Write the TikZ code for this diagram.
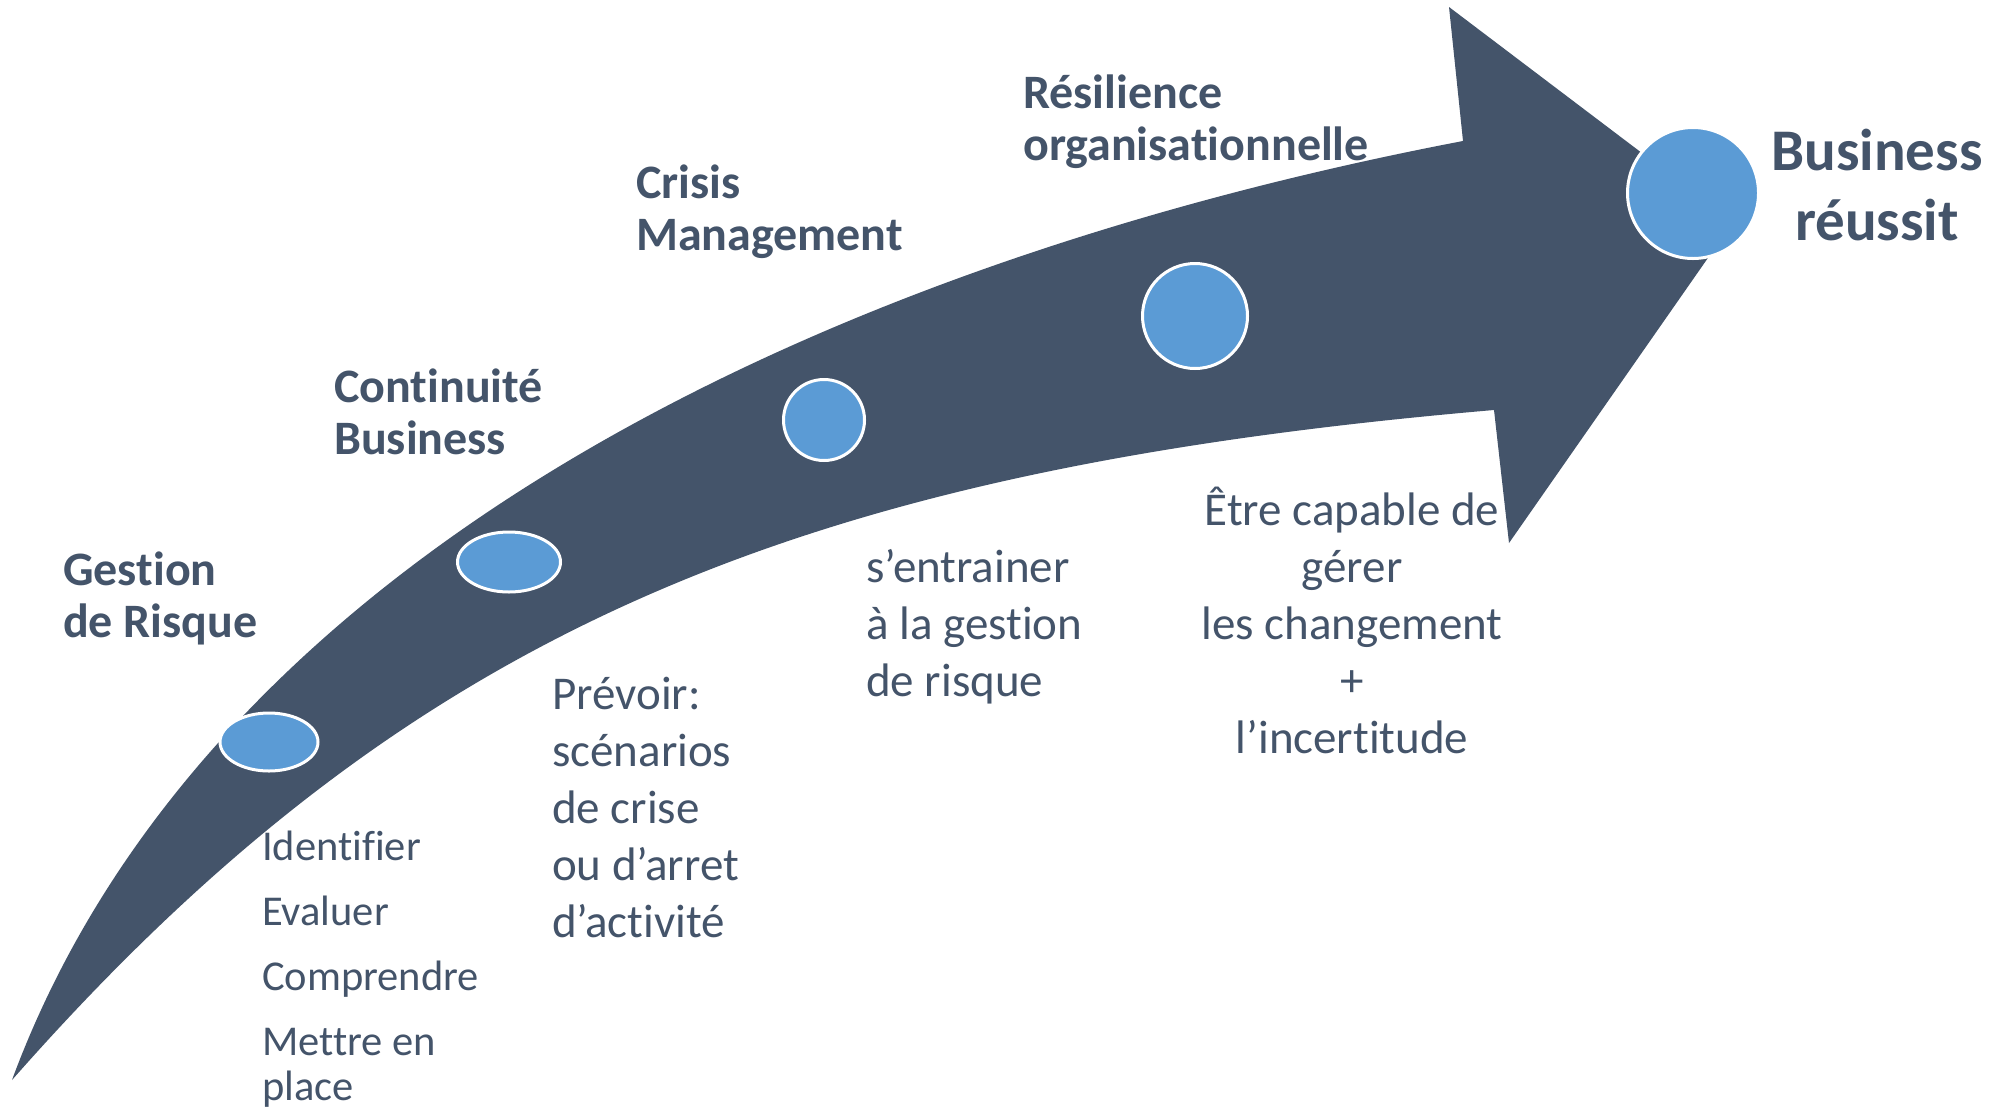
\documentclass[tikz,border=0pt]{standalone}
\usepackage{fontspec}
\setmainfont{Carlito}[Ligatures=NoCommon]
\usetikzlibrary{shapes.geometric}
\definecolor{slate}{HTML}{44546A}
\definecolor{dotblue}{HTML}{5B9BD5}
\newcommand\lblock[1]{\vtop{\halign{##\hfil\cr#1\crcr}}}
\newcommand\cblock[1]{\vtop{\halign{\hfil##\hfil\cr#1\crcr}}}
\begin{document}
\begin{tikzpicture}[x=1pt,y=-1pt,
  marker/.style={fill=dotblue,draw=white,line width=3pt,inner sep=0pt},
  head/.style={inner sep=0pt,text=slate,font={\fontsize{48}{52}\selectfont\bfseries}},
  desc/.style={inner sep=0pt,text=slate,font={\fontsize{47}{57}\selectfont}},
  small/.style={inner sep=0pt,text=slate,font={\fontsize{42.5}{45}\selectfont}}]
\fill[white] (0,0) rectangle (1993,1109);
\useasboundingbox (0,0) rectangle (1993,1109);
% arrow
\fill[slate] (12,1080) .. controls (206,555) and (825,263) .. (1463,141)
  -- (1449,7) -- (1733,222) -- (1509,543) -- (1494,410)
  .. controls (797,470) and (409,629) .. (12,1080) -- cycle;
% markers
\node[marker,ellipse,minimum width=98pt,minimum height=58pt] (m1) at (269,742) {};
\node[marker,ellipse,minimum width=103pt,minimum height=60pt] (m2) at (509,562) {};
\node[marker,circle,minimum size=81pt] (m3) at (824,420) {};
\node[marker,circle,minimum size=105pt] (m4) at (1195,316) {};
\node[marker,circle,minimum size=131pt] (m5) at (1693,193) {};
% headings
\node[head,anchor=base west] (h1) at (63,585) {\lblock{Gestion\cr de Risque}};
\node[head,anchor=base west] (h2) at (334,402) {\lblock{Continuité\cr Business}};
\node[head,anchor=base west] (h3) at (636,198) {\lblock{Crisis\cr Management}};
\node[head,anchor=base west] (h4) at (1023,108) {\lblock{Résilience\cr organisationnelle}};
\node[inner sep=0pt,text=slate,font={\fontsize{59}{70}\selectfont\bfseries},anchor=base] (h5) at (1877,170) {\cblock{Business\cr réussit}};
% descriptions
\node[small,anchor=base west] (d1) at (262,860) {\lblock{Identifier\cr\noalign{\vskip20pt}Evaluer\cr\noalign{\vskip20pt}Comprendre\cr\noalign{\vskip20pt}Mettre en\cr place}};
\node[desc,anchor=base west] (d2) at (552,709) {\lblock{Prévoir:\cr scénarios\cr de crise\cr ou d’arret\cr d’activité}};
\node[desc,anchor=base west] (d3) at (866,582) {\lblock{s’entrainer\cr à la gestion\cr de risque}};
\node[desc,anchor=base] (d4) at (1352,525) {\cblock{Être capable de\cr gérer\cr les changement\cr +\cr l’incertitude}};
\end{tikzpicture}
\end{document}
